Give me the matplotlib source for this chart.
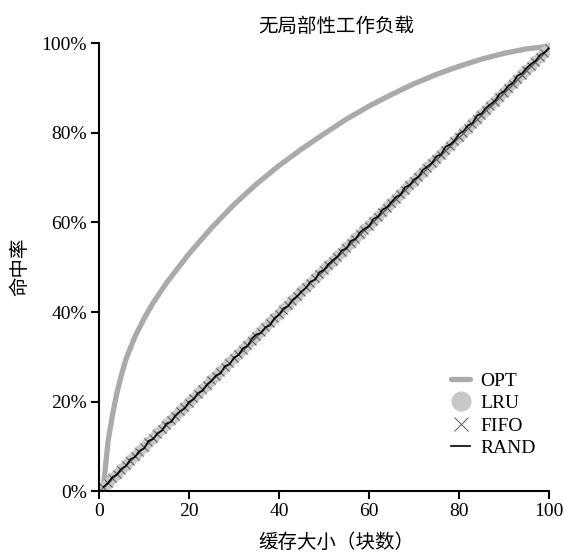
import matplotlib
matplotlib.use("Agg")
import matplotlib.pyplot as plt
from matplotlib.ticker import PercentFormatter

plt.rcParams['font.family'] = ['Liberation Serif', 'Noto Sans CJK SC']

# OPT curve (cache size, hit rate %)
opt_x = [1, 1.5, 2, 3, 4, 5, 6, 8, 10, 12, 15, 20, 25, 30, 35, 40, 45, 50,
         55, 60, 65, 70, 75, 80, 85, 90, 95, 100]
opt_y = [0.9, 6, 11, 17, 22, 26, 29.5, 34.5, 38.5, 42, 46.5, 53, 58.8, 64.0,
         68.6, 72.7, 76.4, 79.8, 83.1, 86.0, 88.6, 91.0, 93.1, 94.9, 96.5,
         97.8, 98.8, 99.4]

sizes = list(range(1, 101))

lru = [0.9, 1.9, 2.9, 3.9, 4.9, 5.9, 6.9, 7.9, 8.9, 9.9,
       10.9, 11.8, 12.9, 13.8, 14.9, 15.9, 16.8, 17.9, 18.8, 19.8,
       20.8, 21.8, 22.8, 23.8, 24.8, 25.7, 26.8, 27.7, 28.8, 29.7,
       30.7, 31.7, 32.7, 33.7, 34.7, 35.7, 36.6, 37.7, 38.6, 39.6,
       40.6, 41.6, 42.6, 43.6, 44.6, 45.6, 46.5, 47.6, 48.5, 49.5,
       50.5, 51.5, 52.5, 53.5, 54.5, 55.4, 56.5, 57.4, 58.5, 59.4,
       60.4, 61.4, 62.4, 63.4, 64.4, 65.4, 66.3, 67.4, 68.3, 69.3,
       70.3, 71.3, 72.3, 73.3, 74.3, 75.3, 76.2, 77.3, 78.2, 79.2,
       80.2, 81.2, 82.2, 83.2, 84.2, 85.1, 86.2, 87.1, 88.1, 89.1,
       90.1, 91.1, 92.1, 93.1, 94.1, 95.0, 96.0, 97.0, 98.0, 99.0]

fifo = [0.9, 1.9, 2.8, 3.9, 4.8, 5.9, 6.8, 7.9, 8.8, 9.8,
        10.9, 11.8, 12.8, 13.8, 14.8, 15.8, 16.8, 17.8, 18.8, 19.7,
        20.8, 21.7, 22.8, 23.7, 24.7, 25.7, 26.7, 27.7, 28.7, 29.7,
        30.7, 31.6, 32.7, 33.6, 34.6, 35.6, 36.6, 37.6, 38.6, 39.6,
        40.5, 41.6, 42.5, 43.6, 44.5, 45.5, 46.5, 47.5, 48.5, 49.4,
        50.5, 51.4, 52.4, 53.4, 54.4, 55.4, 56.4, 57.4, 58.4, 59.3,
        60.4, 61.3, 62.3, 63.3, 64.3, 65.3, 66.3, 67.2, 68.3, 69.2,
        70.2, 71.2, 72.2, 73.2, 74.2, 75.1, 76.2, 77.1, 78.1, 79.1,
        80.1, 81.1, 82.1, 83.1, 84.0, 85.1, 86.0, 87.0, 88.0, 89.0,
        90.0, 91.0, 92.0, 92.9, 94.0, 94.9, 95.9, 96.9, 97.9, 99.0]

rand = [0.9, 1.8, 3.1, 3.7, 5.0, 5.6, 7.1, 7.6, 9.0, 9.5,
        11.2, 11.6, 12.9, 13.5, 15.1, 15.4, 16.9, 17.8, 18.4, 19.9,
        20.5, 21.9, 22.4, 23.8, 24.6, 25.8, 26.3, 27.9, 28.3, 29.8,
        30.4, 31.9, 32.4, 34.1, 35.0, 35.3, 36.6, 37.0, 38.6, 39.4,
        40.8, 41.3, 42.7, 43.5, 44.6, 45.4, 46.8, 47.2, 48.9, 49.4,
        50.7, 51.6, 52.4, 53.8, 54.2, 55.9, 56.3, 57.8, 58.6, 59.2,
        60.8, 61.3, 62.9, 63.4, 64.6, 65.7, 66.2, 67.9, 68.3, 69.6,
        70.2, 71.8, 72.5, 73.3, 74.8, 75.2, 76.9, 77.4, 78.3, 79.8,
        80.4, 81.7, 82.2, 83.9, 84.3, 85.6, 86.4, 87.2, 88.7, 89.3,
        90.6, 91.2, 92.8, 93.3, 94.5, 95.4, 96.1, 97.4, 98.0, 99.0]

fig = plt.figure(figsize=(5.64, 5.54), dpi=100)
ax = fig.add_axes([0.1755, 0.1137, 0.7979, 0.8078])

ax.plot(opt_x, opt_y, color='#aaaaaa', lw=3.8, solid_capstyle='round', label='OPT')
ax.plot(sizes, lru, 'o', color='#c8c8c8', ms=8.5, mec='none', label='LRU')
ax.plot(sizes, fifo, 'x', color='#555555', ms=6, mew=0.7, label='FIFO')
ax.plot(sizes, rand, '-', color='black', lw=1.2, label='RAND')

ax.set_xlim(0, 100)
ax.set_ylim(0, 100)
ax.set_xticks([0, 20, 40, 60, 80, 100])
ax.set_yticks([0, 20, 40, 60, 80, 100])
ax.yaxis.set_major_formatter(PercentFormatter(100, decimals=0))
ax.spines['top'].set_visible(False)
ax.spines['right'].set_visible(False)
ax.spines['left'].set_linewidth(1.5)
ax.spines['bottom'].set_linewidth(1.5)
ax.tick_params(direction='out', length=5.5, width=1.5, labelsize=14, pad=3)
for s in ['left', 'bottom']:
    ax.spines[s].set_clip_on(False)

ax.set_title('无局部性工作负载', fontsize=14, pad=8, x=0.527)
ax.set_xlabel('缓存大小（块数）', fontsize=14)
ax.xaxis.set_label_coords(0.527, -0.094)
ax.set_ylabel('命中率', fontsize=14, labelpad=9)

leg = ax.legend(loc='lower right', frameon=False, fontsize=14, handlelength=1.0,
                handletextpad=0.5, labelspacing=0.24, markerscale=1.7,
                bbox_to_anchor=(1.0, 0.046), borderaxespad=0.3)

plt.savefig('out.png', dpi=100)
